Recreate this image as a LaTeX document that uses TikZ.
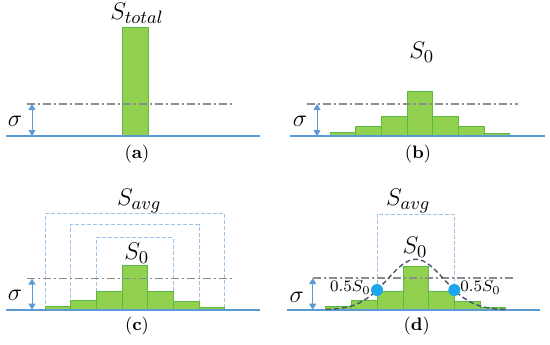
\documentclass[tikz,border=0pt]{standalone}
\usetikzlibrary{arrows.meta}
\definecolor{barfill}{HTML}{92D050}
\definecolor{barline}{HTML}{5DB944}
\definecolor{baseblue}{HTML}{5B9BD5}
\definecolor{boxblue}{HTML}{9DC3E6}
\definecolor{dotblue}{HTML}{1AA7EC}
\definecolor{curveblue}{HTML}{44546A}
\definecolor{dashgray}{HTML}{8C8C8C}
\begin{document}
\begin{tikzpicture}[x=0.5pt,y=-0.5pt,
  histbar/.style={fill=barfill,draw=barline,line width=0.5pt},
  groundline/.style={draw=baseblue,line width=1pt},
  sigline/.style={draw=dashgray,line width=0.55pt,dash pattern=on 4pt off 1.5pt on 1pt off 1.5pt},
  sigarrow/.style={draw=baseblue,line width=0.5pt,{Triangle[length=3pt,width=3.5pt]}-{Triangle[length=3pt,width=3.5pt]}},
  avgbox/.style={draw=boxblue,line width=0.5pt,dash pattern=on 2pt off 1pt},
  biglabel/.style={inner sep=0pt,font=\fontsize{12.5}{15}\selectfont},
  sublabel/.style={inner sep=0pt,font=\fontsize{9}{11}\selectfont},
  halflabel/.style={inner sep=0pt,font=\fontsize{8.5}{10}\selectfont},
  halfdot/.style={circle,fill=dotblue,inner sep=0pt,minimum size=6pt}]
\useasboundingbox (0,0) rectangle (550,344);
% ---------------- (a)
\draw[histbar] (122,27) rectangle (148,136);
\draw[groundline] (6,136) coordinate (a0) -- (260,136) coordinate (a1);
\draw[sigline] (27,104) coordinate (a2) -- (233,104) coordinate (a3);
\coordinate (as1) at (32,104); \coordinate (as2) at (32,136);
\draw[sigarrow] (as1) -- (as2);
\node[biglabel] (sa) at (15,121) {$\sigma$};
\node[biglabel] (tot) at (137,13) {$S_{total}$};
\node[sublabel] (la) at (137,154) {(\textbf{a})};
% ---------------- (b)
\foreach \xa/\xb/\t in {330/355.3/132.3, 355.3/381.3/126, 381.3/407.3/116.3, 407.3/432.7/91, 432.7/458.3/116.3, 458.3/484/126, 484/509.7/133.3}
  \draw[histbar] (\xa,\t) rectangle (\xb,136);
\draw[groundline] (290,136) coordinate (b0) -- (545,136) coordinate (b1);
\draw[sigline] (307,104) coordinate (b2) -- (518,104) coordinate (b3);
\coordinate (bs1) at (317,104); \coordinate (bs2) at (317,136);
\draw[sigarrow] (bs1) -- (bs2);
\node[biglabel] (sb) at (300,121) {$\sigma$};
\node[biglabel] (s0b) at (421.7,52) {$S_0$};
\node[sublabel] (lb) at (418,154) {(\textbf{b})};
% ---------------- (c)
\draw[avgbox] (45,309.7) -- (45,213.7) -- (224.3,213.7) -- (224.3,309.7);
\draw[avgbox] (70.3,309.7) -- (70.3,224.7) -- (199,224.7) -- (199,309.7);
\draw[avgbox] (96.3,309.7) -- (96.3,237.7) -- (173.3,237.7) -- (173.3,309.7);
\foreach \xa/\xb/\t in {45/70.3/306.7, 70.3/96.3/300, 96.3/122.3/291, 122.3/147.7/265.7, 147.7/173.3/291, 173.3/199/301, 199/224.3/307.3}
  \draw[histbar] (\xa,\t) rectangle (\xb,309.7);
\draw[groundline] (6,309.7) coordinate (c0) -- (260,309.7) coordinate (c1);
\draw[sigline] (27,278.7) coordinate (c2) -- (233,278.7) coordinate (c3);
\coordinate (cs1) at (32,278.7); \coordinate (cs2) at (32,309.7);
\draw[sigarrow] (cs1) -- (cs2);
\node[biglabel] (sc) at (15,295) {$\sigma$};
\node[biglabel] (avgc) at (139.3,201) {$S_{avg}$};
\node[biglabel] (s0c) at (136.7,253) {$S_0$};
\node[sublabel] (lc) at (137,326) {(\textbf{c})};
% ---------------- (d)
\draw[avgbox] (377,290) -- (377,214) -- (454.3,214) -- (454.3,290);
\foreach \xa/\xb/\t in {325.7/351.3/306.7, 351.3/377/300, 377/403/291, 403/428.7/266, 428.7/454.3/291, 454.3/480/301, 480/505.7/307.3}
  \draw[histbar] (\xa,\t) rectangle (\xb,309.7);
\draw[groundline] (286.7,309.7) coordinate (d0) -- (540,309.7) coordinate (d1);
\draw[sigline] (313,278) coordinate (d2) -- (515.7,278) coordinate (d3);
\coordinate (ds1) at (312.7,278); \coordinate (ds2) at (312.7,309.7);
\draw[sigarrow] (ds1) -- (ds2);
\draw[curveblue,line width=0.7pt,dash pattern=on 2.5pt off 1.5pt,smooth,samples=60,domain=326:506]
  plot (\x,{309.7-50.4*exp(-((\x-415.7)^2)/1590)});
\node[halfdot] (hl) at (377,290) {};
\node[halfdot] (hr) at (454.3,290) {};
\node[halflabel,anchor=east] (tl) at (371,287.5) {$0.5S_0$};
\node[halflabel,anchor=west] (tr) at (460,287.5) {$0.5S_0$};
\node[biglabel] (sd) at (296.7,297) {$\sigma$};
\node[biglabel] (avgd) at (408.3,201) {$S_{avg}$};
\node[biglabel] (s0d) at (415,247) {$S_0$};
\node[sublabel] (ld) at (416.7,326) {(\textbf{d})};
\end{tikzpicture}
\end{document}
